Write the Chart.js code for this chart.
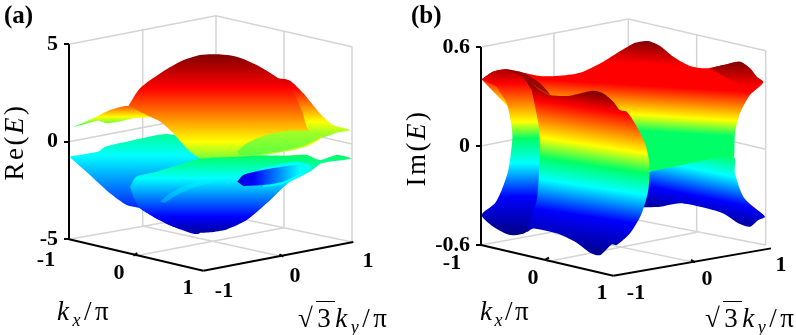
<!DOCTYPE html>
<html>
<head>
<meta charset="utf-8">
<title>Re(E) and Im(E)</title>
<script src="https://cdn.jsdelivr.net/npm/chart.js@4"></script>
<style>
  html, body { margin: 0; padding: 0; background: #fff; }
  #page { position: relative; width: 796px; height: 335px; overflow: hidden; font-family: "Liberation Serif", serif; color: #000; }
  canvas { position: absolute; top: 0; }
  #chartA { left: 0; }
  #chartB { left: 400px; }
  .lbl { position: absolute; white-space: nowrap; line-height: 1; }
  .tick { font-weight: bold; font-size: 22px; transform: translate(-50%, -50%); }
  .panel { font-weight: bold; font-size: 25px; }
  .math { font-size: 27px; letter-spacing: 2.5px; }
  .math sub { font-size: 18px; line-height: 0; }
  .wide { letter-spacing: 3.5px; }
  .rot { transform: translate(-50%, -50%) rotate(-90deg); }
  .over { border-top: 1.5px solid #000; padding: 1px 1px 0 1px; }
</style>
</head>
<body>
<div id="page">
  <canvas id="chartA" width="400" height="335"></canvas>
  <canvas id="chartB" width="396" height="335"></canvas>
  <span class="lbl panel" style="left:4px;top:2px">(a)</span>
  <span class="lbl panel" style="left:411px;top:2px">(b)</span>
  <span class="lbl math rot" style="left:14px;top:142px">Re(<i>E</i>)</span>
  <span class="lbl math rot" style="left:416px;top:148px">Im(<i>E</i>)</span>
  <span class="lbl math wide" style="left:57px;top:298px"><i>k<sub>x</sub></i>/π</span>
  <span class="lbl math" style="left:480px;top:298px"><i>k<sub>x</sub></i>/π</span>
  <span class="lbl math wide" style="left:298px;top:305px">√<span class="over">3</span><i>k<sub>y</sub></i>/π</span>
  <span class="lbl math wide" style="left:705px;top:305px">√<span class="over">3</span><i>k<sub>y</sub></i>/π</span>
</div>
<script>
// ---------- tick labels ----------
const reTicks = [-5, 0, 5];
const imTicks = [-0.6, 0, 0.6];
const floorTicks = ["-1", "0", "1"];

// colours of the height map, top to bottom
const JET = ["#7f0000", "#ff0000", "#ffff00", "#00ff66", "#00ffff", "#0000ff", "#00007f"];
// back sheet of (b) holds red and green longer
const JET_BACK = ["#7f0000", "#ff0000", "#ff0000", "#ffff00", "#00ff66", "#00ff66", "#00ffff", "#0000ff"];
const WALL = "#d4d4d4";

// ---------- panel (a): view position x, Re(E) ----------
const reWingX = [218, 280, 330, 385, 450, 400, 360, 320, 295];
const reWingE = [0.74, 1.20, 1.62, 1.83, 1.28, 1.20, 1.03, 0.94, 1.08];
const reWingLevels = [2.99, 2.14, 1.28, 0.68, -0.43, -1.28, -2.31];

const reHumpX = [835, 870, 910, 960, 1000, 1050, 1010, 965, 900, 850, 820];
const reHumpE = [3.25, 3.13, 2.48, 1.45, 0.85, 0.60, 0.46, 0.22, 0.40, 1.50, 3.00];
const reHumpLevels = [4.19, 2.74, 1.03, -0.60, -1.62, -2.99, -4.36];

const reMainX = [385, 420, 480, 540, 600, 650, 710, 770, 835, 875, 905, 925, 965, 930, 880, 810, 710, 630, 600, 565, 520, 480, 450, 410];
const reMainE = [1.83, 2.74, 3.50, 4.10, 4.44, 4.48, 4.36, 3.93, 3.25, 2.65, 1.62, 0.60, 0.22, -0.17, -0.43, -0.63, -0.77, -0.82, -0.85, -0.43, 0.43, 1.03, 1.28, 1.62];
const reMainLevels = [4.50, 2.74, 0, -1.62, -2.99, -4.02, -4.87];

const reGreenX = [710, 740, 790, 860, 930, 965, 950, 900, 830, 760, 720];
const reGreenE = [-0.51, -0.09, 0.29, 0.55, 0.55, 0.34, 0.09, -0.26, -0.51, -0.68, -0.68];
const reGreenLevels = [5.56, 3.85, 2.14, -2.31, -3.85, -5.04, -6.41];

const reLowBackX = [208, 295, 315, 380, 500, 560, 600, 600, 520, 460, 420, 380, 330, 270];
const reLowBackE = [-0.77, -0.51, -0.26, 0, 0.39, 0.09, -0.85, -4.67, -4.36, -3.85, -3.42, -3.25, -2.65, -1.71];
const reLowBackLevels = [2.99, 2.14, 1.28, 0.90, -0.70, -3.85, -5.38];

const reLowFrontX = [390, 410, 470, 600, 650, 850, 920, 960, 1010, 1055, 1040, 965, 930, 870, 800, 740, 680, 630, 600, 520, 460, 420, 400];
const reLowFrontE = [-2.31, -1.79, -1.54, -0.85, -0.68, -0.72, -0.68, -0.94, -0.68, -0.85, -0.91, -1.11, -1.54, -2.05, -3.16, -4.02, -4.50, -4.65, -4.67, -4.36, -3.85, -3.42, -2.82];
const reLowFrontLevels = [2.14, 1.28, 0.43, -0.77, -1.88, -3.85, -4.96];

const reCreaseX = [480, 510, 550, 600, 640, 590, 540, 495];
const reCreaseE = [-3.08, -2.65, -2.27, -2.05, -2.05, -2.31, -2.65, -3.13];

const reRimX = [780, 890, 935, 905, 855, 790];
const reRimE = [-1.37, -1.03, -1.28, -1.76, -2.14, -2.34];

const reBlueX = [712, 730, 800, 890, 920, 900, 850, 790, 730];
const reBlueE = [-2.05, -1.71, -1.42, -1.20, -1.28, -1.62, -2.05, -2.22, -2.27];
const reBlueAcross = [1300, 1200, 1100, 1000, 900, 760, 600];

// box of panel (a)
const reWalls = [
  [[207, 648, 1056], [5, 6.46, 4.87]],
  [[1056, 1056], [4.87, -5.15]],
  [[648, 648], [6.46, -3.68]],
  [[207, 648, 1056], [0, 1.45, -0.12]],
  [[428, 428], [5.76, -4.32]],
  [[852, 852], [5.68, -4.41]],
  [[207, 648, 1056], [-5, -3.68, -5.15]],
  [[405, 852], [-5.86, -4.41]],
  [[850, 428], [-5.90, -4.32]]
];
const reAxes = [
  [[207, 207], [5, -5]],
  [[207, 610], [-5, -6.62]],
  [[610, 1060], [-6.62, -5.15]],
  [[400, 412], [-5.84, -5.72]],
  [[850, 838], [-5.90, -5.78]]
];

// ---------- panel (b): view position x, Im(E) ----------
const imBackX = [245, 280, 320, 370, 420, 470, 540, 610, 650, 700, 720, 745, 780, 820, 870, 920, 970, 1020, 1050, 1070, 1090, 1050, 1020, 1005, 1003, 1000, 748, 600, 450];
const imBackE = [0.404, 0.451, 0.465, 0.444, 0.424, 0.424, 0.444, 0.511, 0.562, 0.622, 0.632, 0.636, 0.606, 0.541, 0.485, 0.471, 0.491, 0.511, 0.471, 0.420, 0.386, 0.309, 0.198, 0.077, -0.044, -0.065, -0.156, -0.125, -0.024];
const imBackLevels = [0.642, 0.499, 0.368, 0.188, 0.093, -0.246, -0.428, -0.570];

const imPeakX = [930, 970, 1020, 1050, 1070, 1090, 1040, 990];
const imPeakE = [0.471, 0.491, 0.511, 0.471, 0.420, 0.386, 0.356, 0.400];
const imPeakLevels = [0.511, 0.360, 0, -0.1, -0.2, -0.4, -0.6];

const imLowX = [748, 1000, 1005, 1030, 1060, 1095, 1075, 1050, 1020, 970, 900, 840, 780, 730];
const imLowE = [-0.156, -0.065, -0.166, -0.307, -0.368, -0.428, -0.448, -0.489, -0.473, -0.408, -0.368, -0.347, -0.368, -0.372];
const imLowLevels = [0.481, 0.279, 0.077, -0.024, -0.145, -0.307, -0.469];

const imWingX = [245, 280, 320, 370, 395, 430, 435, 430, 425, 380, 330, 280, 245, 285, 305, 325, 337, 335, 320, 290];
const imWingE = [0.404, 0.451, 0.465, 0.420, 0.339, 0.137, -0.004, -0.186, -0.327, -0.519, -0.539, -0.489, -0.418, -0.347, -0.267, -0.145, 0.036, 0.117, 0.259, 0.360];
const imWingLevels = [0.501, 0.380, 0.147, 0.046, -0.105, -0.307, -0.549];

const imFrontX = [370, 420, 450, 500, 540, 580, 610, 640, 660, 680, 705, 735, 748, 745, 725, 690, 650, 635, 600, 570, 530, 470, 400, 380, 410, 418, 420, 415, 395];
const imFrontE = [0.420, 0.339, 0.309, 0.303, 0.319, 0.335, 0.319, 0.269, 0.218, 0.208, 0.137, 0.016, -0.105, -0.267, -0.408, -0.529, -0.600, -0.596, -0.661, -0.646, -0.586, -0.529, -0.499, -0.519, -0.327, -0.125, -0.004, 0.137, 0.339];
const imFrontLevels = [0.329, 0.228, 0.006, -0.115, -0.246, -0.428, -0.681];

const imRimX = [320, 370, 420, 450, 420, 370, 345];
const imRimE = [0.465, 0.444, 0.380, 0.311, 0.343, 0.416, 0.444];

// box of panel (b)
const imWalls = [
  [[243, 685, 1097], [0.6, 0.770, 0.578]],
  [[1097, 1097], [0.578, -0.6]],
  [[685, 685], [0.770, -0.438]],
  [[243, 685, 1097], [0, 0.178, -0.020]],
  [[462, 462], [0.683, -0.529]],
  [[890, 890], [0.673, -0.523]],
  [[243, 685, 1097], [-0.6, -0.438, -0.6]],
  [[440, 890], [-0.701, -0.523]],
  [[885, 462], [-0.705, -0.529]]
];
const imAxes = [
  [[243, 243], [0.6, -0.6]],
  [[243, 640], [-0.6, -0.786]],
  [[640, 1113], [-0.786, -0.620]],
  [[435, 447], [-0.690, -0.676]],
  [[885, 873], [-0.705, -0.690]]
];

function toPoints(xs, es) {
  return xs.map((x, i) => ({ x, y: es[i] }));
}

// height colouring; tilt lets the colour bands lean with the perspective
function levelFill(levels, tilt, midX, palette = JET) {
  return (c) => {
    if (!c.chart.chartArea) return palette[2]; // asked before layout (legend pass)
    const { x: sx, y: sy } = c.chart.scales;
    const y0 = sy.getPixelForValue(levels[0]);
    const h = sy.getPixelForValue(levels[levels.length - 1]) - y0;
    const dy = h / (1 + tilt * tilt);
    const xc = sx.getPixelForValue(midX);
    const g = c.chart.ctx.createLinearGradient(xc, y0, xc - tilt * dy, y0 + dy);
    levels.forEach((v, i) => g.addColorStop((sy.getPixelForValue(v) - y0) / h, palette[i]));
    return g;
  };
}

function acrossFill(across) {
  return (c) => {
    if (!c.chart.chartArea) return JET[4];
    const sx = c.chart.scales.x;
    const x0 = sx.getPixelForValue(across[0]);
    const w = sx.getPixelForValue(across[across.length - 1]) - x0;
    const g = c.chart.ctx.createLinearGradient(x0, 0, x0 + w, 0);
    across.forEach((v, i) => g.addColorStop((sx.getPixelForValue(v) - x0) / w, JET[i]));
    return g;
  };
}

function surface(xs, es, fill) {
  return {
    data: toPoints(xs, es),
    showLine: true,
    fill: "shape",
    backgroundColor: fill,
    borderWidth: 0,
    pointRadius: 0,
    tension: 0.25
  };
}

function wire(line, color, width) {
  return {
    data: toPoints(line[0], line[1]),
    showLine: true,
    fill: false,
    borderColor: color,
    borderWidth: width,
    pointRadius: 0
  };
}

function drawPanel(id, xMax, yMin, yMax, zAxisX, ticks, walls, surfaces, axes) {
  // chart.js paints the first dataset on top, so back to front needs reversing
  const painted = [
    ...walls.map((l) => wire(l, WALL, 1.5)),
    ...surfaces,
    ...axes.map((l) => wire(l, "#000", 2))
  ].reverse();
  new Chart(document.getElementById(id), {
    type: "scatter",
    data: { datasets: painted },
    options: {
      responsive: false,
      animation: false,
      layout: { padding: 0, autoPadding: false },
      plugins: { legend: { display: false }, tooltip: { enabled: false } },
      scales: {
        x: { type: "linear", min: 0, max: xMax, display: false },
        y: {
          type: "linear",
          min: yMin,
          max: yMax,
          position: { x: zAxisX },
          afterBuildTicks: (scale) => { scale.ticks = ticks.map((value) => ({ value })); },
          // the labels sit well inside the canvas, no room to reserve for them
          afterFit: (scale) => { scale.paddingTop = 0; scale.paddingBottom = 0; },
          ticks: {
            autoSkip: false,
            color: "#000",
            font: { family: "Liberation Serif", size: 22, weight: "bold" },
            // a positioned axis ignores ticks.padding, the spaces keep the number off the line
            callback: (v) => String(v) + "\u00a0\u00a0"
          },
          grid: { drawOnChartArea: false, drawTicks: true, tickLength: 5, color: "#000", lineWidth: 2 },
          border: { display: false }
        }
      }
    }
  });
}

drawPanel("chartA", 1200, -9.915, 7.265, 207, reTicks, reWalls, [
  surface(reLowBackX, reLowBackE, levelFill(reLowBackLevels, 0, 400)),
  surface(reLowFrontX, reLowFrontE, levelFill(reLowFrontLevels, 0, 700)),
  surface(reCreaseX, reCreaseE, "rgba(0,255,255,0.35)"),
  surface(reRimX, reRimE, "rgba(0,255,255,0.85)"),
  surface(reBlueX, reBlueE, acrossFill(reBlueAcross)),
  surface(reWingX, reWingE, levelFill(reWingLevels, 0, 300)),
  surface(reHumpX, reHumpE, levelFill(reHumpLevels, 0, 950)),
  surface(reMainX, reMainE, levelFill(reMainLevels, 0, 650)),
  surface(reGreenX, reGreenE, levelFill(reGreenLevels, 0, 830))
], reAxes);

drawPanel("chartB", 1188, -1.145, 0.885, 243, imTicks, imWalls, [
  surface(imBackX, imBackE, levelFill(imBackLevels, 0.06, 720, JET_BACK)),
  surface(imPeakX, imPeakE, levelFill(imPeakLevels, 0, 1020)),
  surface(imLowX, imLowE, levelFill(imLowLevels, 0.2, 900)),
  surface(imWingX, imWingE, levelFill(imWingLevels, 0, 350)),
  surface(imFrontX, imFrontE, levelFill(imFrontLevels, 0.15, 570)),
  surface(imRimX, imRimE, "rgba(127,0,0,0.8)")
], imAxes);

// ---------- floor axis numbers ----------
const floorSpots = [
  [46, 259], [119, 272], [188, 287],
  [452, 262], [533, 277], [602, 292]
];
const floorSpotsRight = [
  [224, 290], [295, 275], [368, 260],
  [636, 292], [707, 278], [781, 264]
];
const page = document.getElementById("page");
[...floorSpots, ...floorSpotsRight].forEach(([left, top], i) => {
  const el = document.createElement("span");
  el.className = "lbl tick";
  el.style.left = left + "px";
  el.style.top = top + "px";
  el.textContent = floorTicks[i % 3];
  page.appendChild(el);
});
</script>
</body>
</html>
